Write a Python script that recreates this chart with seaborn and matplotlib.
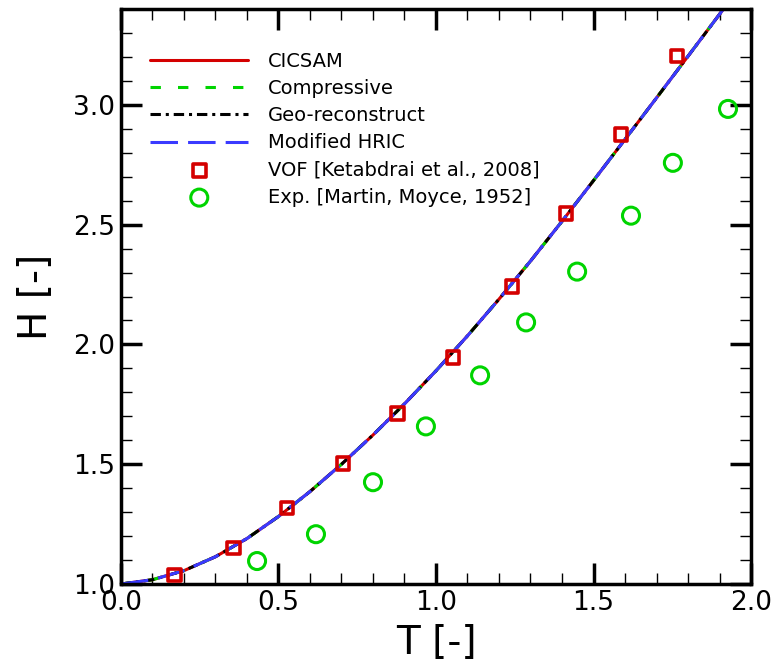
import numpy as np
import pandas as pd
import matplotlib
matplotlib.use("Agg")
import matplotlib.pyplot as plt
from matplotlib.ticker import MultipleLocator, FormatStrFormatter
import seaborn as sns

# ---------------------------------------------------------------
# Datos
# ---------------------------------------------------------------
t_sim = [0.0, 0.1, 0.2, 0.3, 0.4, 0.5, 0.6, 0.7, 0.8, 0.9, 1.0,
         1.1, 1.2, 1.3, 1.4, 1.5, 1.6, 1.7, 1.8, 1.9, 2.0]
h_sim = [1.0, 1.018, 1.056, 1.114, 1.190, 1.282, 1.386, 1.500, 1.622, 1.752, 1.890,
         2.036, 2.189, 2.348, 2.514, 2.684, 2.856, 3.029, 3.203, 3.378, 3.553]

esquemas = ["CICSAM", "Compressive", "Geo-reconstruct", "Modified HRIC"]

t_vof = [0.171, 0.356, 0.527, 0.705, 0.879, 1.054, 1.241, 1.413, 1.587, 1.765]
h_vof = [1.0375, 1.150, 1.317, 1.504, 1.7125, 1.946, 2.242, 2.546, 2.875, 3.204]

t_exp = [0.432, 0.619, 0.800, 0.968, 1.140, 1.286, 1.448, 1.619, 1.752, 1.927]
h_exp = [1.096, 1.208, 1.425, 1.658, 1.871, 2.092, 2.304, 2.5375, 2.758, 2.983]

# ---------------------------------------------------------------
# Estilo
# ---------------------------------------------------------------
sns.set_theme(style="ticks")
plt.rcParams["font.family"] = ["DejaVu Sans"]
plt.rcParams["text.color"] = "black"
plt.rcParams["axes.labelcolor"] = "black"
plt.rcParams["xtick.color"] = "black"
plt.rcParams["ytick.color"] = "black"

rojo = "#d40000"
verde = "#00d400"
azul = "#3a3aff"

estilos = {
    "CICSAM": dict(color=rojo, linestyle="-"),
    "Compressive": dict(color=verde, linestyle=(0, (3.4, 5.6))),
    "Geo-reconstruct": dict(color="black", linestyle=(0, (3.4, 1.6, 1.0, 1.6))),
    "Modified HRIC": dict(color=azul, linestyle=(0, (9, 3.3))),
}

fig = plt.figure(figsize=(7.74, 6.68), dpi=100)
ax = fig.add_axes([0.1563, 0.1257, 0.8140, 0.8608])

curva = pd.DataFrame({"T": t_sim, "H": h_sim})
for nombre in esquemas:
    sns.lineplot(data=curva, x="T", y="H", ax=ax, sort=False, linewidth=2.2,
                 label=nombre, **estilos[nombre])

vof = pd.DataFrame({"T": t_vof, "H": h_vof})
exp = pd.DataFrame({"T": t_exp, "H": h_exp})
sns.scatterplot(data=vof, x="T", y="H", ax=ax, marker="s", s=85,
                facecolor="none", edgecolor=rojo, linewidth=2.6,
                label="VOF [Ketabdrai et al., 2008]", zorder=5)
sns.scatterplot(data=exp, x="T", y="H", ax=ax, marker="o", s=150,
                facecolor="none", edgecolor=verde, linewidth=2.2,
                label="Exp. [Martin, Moyce, 1952]", zorder=5)

ax.set_xlim(0, 2.0)
ax.set_ylim(1.0, 3.4)
ax.xaxis.set_major_locator(MultipleLocator(0.5))
ax.xaxis.set_minor_locator(MultipleLocator(0.1))
ax.yaxis.set_major_locator(MultipleLocator(0.5))
ax.yaxis.set_minor_locator(MultipleLocator(0.1))
ax.xaxis.set_major_formatter(FormatStrFormatter("%.1f"))
ax.yaxis.set_major_formatter(FormatStrFormatter("%.1f"))

ax.tick_params(which="both", direction="in", top=True, right=True, colors="black")
ax.tick_params(which="major", length=15, width=2.5, labelsize=19, pad=4)
ax.tick_params(which="minor", length=8, width=1.0)
for lado in ax.spines.values():
    lado.set_linewidth(2.5)
    lado.set_color("black")

ax.set_xlabel("T [-]", fontsize=28, labelpad=6, color="black")
ax.set_ylabel("H [-]", fontsize=28, labelpad=13, color="black")

ax.legend(loc="upper left", bbox_to_anchor=(0.034, 0.939), frameon=False,
          fontsize=14, handlelength=5.05, handletextpad=1.0,
          labelspacing=0.42, borderaxespad=0.0)

fig.savefig("out.png", dpi=100)
